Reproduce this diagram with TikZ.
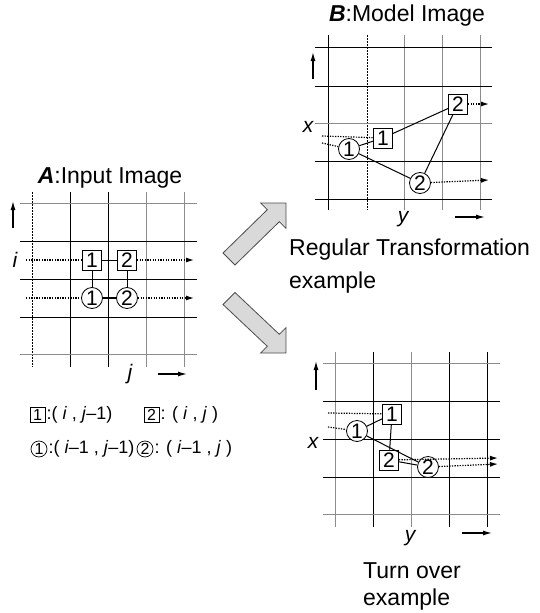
\documentclass[tikz,border=0pt]{standalone}
\usepackage{fontspec}
\setmainfont{Liberation Sans}
\usetikzlibrary{arrows.meta}
\begin{document}
\begin{tikzpicture}[x=1pt,y=-1pt,
  gl/.style={line width=0.9pt,black},
  gg/.style={line width=0.9pt,black!45},
  gd/.style={line width=0.9pt,black,dash pattern=on 2pt off 1pt},
  sq/.style={draw,line width=0.8pt,fill=white,inner sep=0pt,minimum width=19pt,minimum height=20pt,font=\fontsize{21}{21}\selectfont},
  cc/.style={draw,circle,line width=0.8pt,fill=white,inner sep=0pt,minimum size=21pt,font=\fontsize{21}{21}\selectfont},
  lsq/.style={draw,line width=0.7pt,inner sep=0pt,minimum width=15pt,minimum height=15pt,font=\fontsize{16}{16}\selectfont},
  lcc/.style={draw,circle,line width=0.7pt,inner sep=0pt,minimum size=16pt,font=\fontsize{16}{16}\selectfont},
  legt/.style={inner sep=1pt,font=\fontsize{18}{18}\selectfont},
  link/.style={line width=1pt},
  dot/.style={line width=1.2pt,dash pattern=on 1.3pt off 1.3pt},
  dotar/.style={dot,-{Latex[length=8pt,width=5pt]}},
  axar/.style={line width=1.2pt,-{Latex[length=9pt,width=5pt]}},
  lab/.style={font=\fontsize{21}{21}\selectfont\itshape},
  ttl/.style={font=\fontsize{23}{23}\selectfont},
  captext/.style={anchor=north west,align=left,inner sep=0pt},
  blk/.style={draw=black!70,fill=black!15,line width=0.8pt,line join=miter}
]
\useasboundingbox (0,0) rectangle (540,613);

% ---------- Panel A ----------
\foreach \xx/\st in {32/gd,70/gl,108/gl,146/gg,184/gg} \draw[\st] (\xx,192) -- (\xx,367);
\foreach \yy/\st in {203/gg,241/gl,279/gl,317/gl,354/gg} \draw[\st] (20,\yy) -- (197,\yy);
\node[ttl] (at) at (110,178) {\textbf{\textit{A}}:Input Image};
\node[sq] (a1) at (92,260) {1};
\node[sq] (a2) at (127,260) {2};
\node[cc] (ac1) at (92,298) {1};
\node[cc] (ac2) at (127,298) {2};
\coordinate (ai0) at (26,260); \coordinate (ai1) at (194,260);
\coordinate (ak0) at (26,298); \coordinate (ak1) at (194,298);
\draw[dot] (ai0) -- (a1);
\draw[dotar] (a2) -- (ai1);
\draw[dot] (ak0) -- (ac1);
\draw[dotar] (ac2) -- (ak1);
\draw[link] (a1) -- (a2);
\draw[link] (a1) -- (ac1);
\draw[link] (a2) -- (ac2);
\draw[line width=1.6pt] (ac1) -- (ac2);
\node[lab] (ail) at (15,260) {i};
\node[lab] (ajl) at (130,374) {j};
\coordinate (aup0) at (13,228); \coordinate (aup1) at (13,201);
\draw[axar] (aup0) -- (aup1);
\coordinate (art0) at (158,374); \coordinate (art1) at (187,374);
\draw[axar] (art0) -- (art1);

% ---------- Panel B ----------
\foreach \xx/\st in {328/gl,367/gd,404/gg,442/gg,480/gg} \draw[\st] (\xx,35) -- (\xx,210);
\foreach \yy/\st in {47/gl,86/gl,123/gg,161/gl,199/gl} \draw[\st] (315,\yy) -- (492,\yy);
\node[ttl] (bt) at (407,16) {\textbf{\textit{B}}:Model Image};
\node[sq] (b1) at (383,138) {1};
\node[sq] (b2) at (458,104) {2};
\node[cc] (bc1) at (349,149) {1};
\node[cc] (bc2) at (420,183) {2};
\coordinate (bd1) at (322,136); \coordinate (bd2) at (322,143);
\coordinate (be1) at (489,104); \coordinate (be2) at (489,180);
\draw[dot] (bd1) -- (b1);
\draw[dot] (bd2) -- (bc1);
\draw[dotar] (b2) -- (be1);
\draw[dotar] (bc2) -- (be2);
\draw[link] (bc1) -- (b1);
\draw[link] (b1) -- (b2);
\draw[link] (bc1) -- (bc2);
\draw[link] (b2) -- (bc2);
\node[lab] (bxl) at (308,127) {x};
\node[lab] (byl) at (403,219) {y};
\coordinate (bup0) at (313,79); \coordinate (bup1) at (313,52);
\draw[axar] (bup0) -- (bup1);
\coordinate (brt0) at (455,217); \coordinate (brt1) at (485,217);
\draw[axar] (brt0) -- (brt1);

% ---------- Panel C ----------
\foreach \xx/\st in {335/gg,373/gl,411/gg,449/gl,487/gl} \draw[\st] (\xx,352) -- (\xx,527);
\foreach \yy/\st in {363/gg,401/gl,439/gl,477/gl,514/gg} \draw[\st] (323,\yy) -- (500,\yy);
\node[sq] (c1) at (392,414) {1};
\node[cc] (cc1) at (357,431) {1};
\node[sq] (c2) at (389,460) {2};
\node[cc] (cc2) at (428,467) {2};
\coordinate (cd1) at (328,413); \coordinate (cd2) at (328,427);
\coordinate (ce1) at (498,458); \coordinate (ce2) at (498,464);
\draw[dot] (cd1) -- (c1);
\draw[dot] (cd2) -- (cc1);
\draw[dotar] (c2) -- (ce1);
\draw[dotar] (cc2) -- (ce2);
\draw[link] (cc1) -- (c1);
\draw[link] (c1) -- (c2);
\draw[link] (cc1) -- (cc2);
\draw[link] (c2) -- (cc2);
\node[lab] (cxl) at (313,443) {x};
\node[lab] (cyl) at (410,538) {y};
\coordinate (cup0) at (316,390); \coordinate (cup1) at (316,361);
\draw[axar] (cup0) -- (cup1);
\coordinate (crt0) at (462,533); \coordinate (crt1) at (492,533);
\draw[axar] (crt0) -- (crt1);

% ---------- block arrows ----------
\draw[blk] (223,253) -- (267.3,209.7) -- (260.6,203) -- (286,203) -- (286,228.4) -- (279.3,221.7) -- (235,265) -- cycle;
\draw[blk] (223,304.5) -- (267.3,346.3) -- (260.6,353) -- (286,353) -- (286,327.6) -- (279.3,334.3) -- (235,292.5) -- cycle;

% ---------- captions ----------
\node[captext,font=\fontsize{23}{33}\selectfont] (cap1) at (289,239) {Regular Transformation\\example};
\node[captext,font=\fontsize{23}{27}\selectfont] (cap2) at (363,562) {Turn over\\example};

% ---------- legend ----------
\node[lsq] (l1) at (37.5,415) {1};
\node[legt,anchor=west] (lt1) at (l1.east) {:( \textit{i} , \textit{j}–1)};
\node[lsq] (l2) at (151.5,415) {2};
\node[legt,anchor=west] (lt2) at (l2.east) {: ( \textit{i} , \textit{j} )};
\node[lcc] (l3) at (39,449) {1};
\node[legt,anchor=west] (lt3) at (l3.east) {:( \textit{i}–1 , \textit{j}–1)};
\node[lcc] (l4) at (145,449) {2};
\node[legt,anchor=west] (lt4) at (l4.east) {: ( \textit{i}–1 , \textit{j} )};
\end{tikzpicture}
\end{document}
